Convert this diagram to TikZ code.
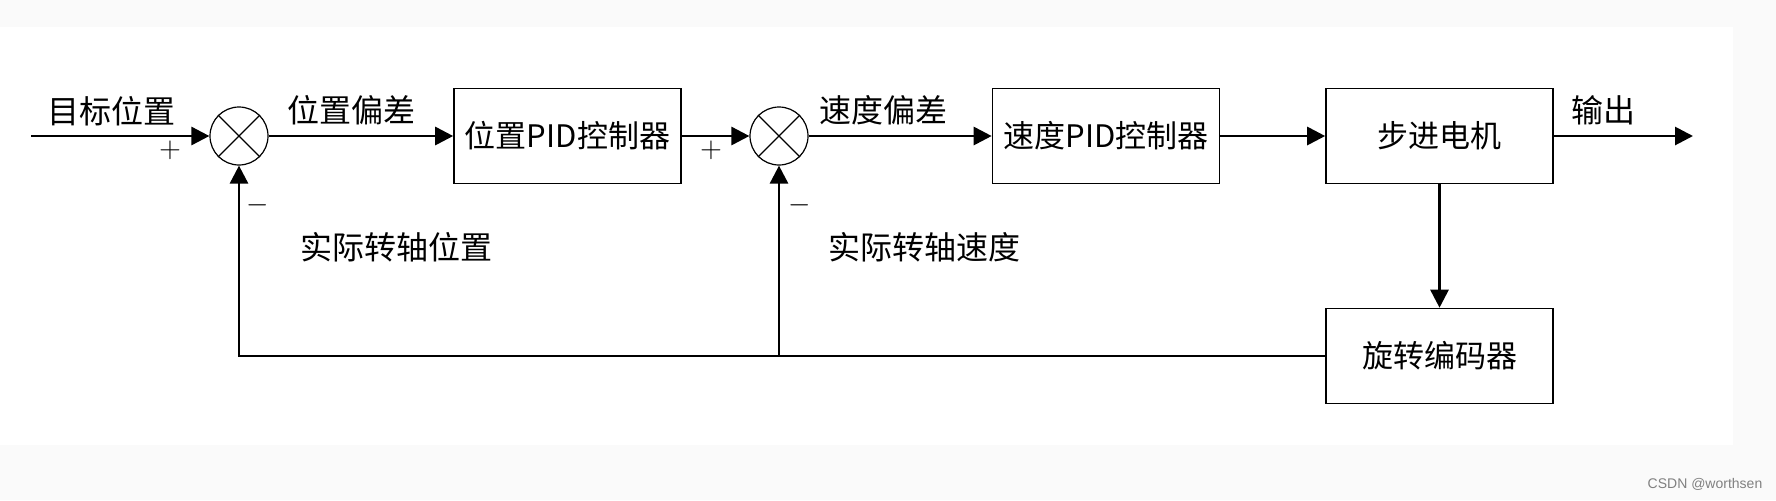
\documentclass[tikz,border=0pt]{standalone}
\usepackage{fontspec}
\setmainfont{Noto Sans CJK SC}
\newfontfamily\wmfont{Liberation Sans}
\usetikzlibrary{arrows.meta}
\definecolor{bgray}{RGB}{250,250,250}
\begin{document}
\begin{tikzpicture}[x=0.5pt,y=-0.5pt,
  blk/.style={draw, line width=0.8pt, minimum width=113.5pt, minimum height=47.5pt, inner sep=0pt, font=\fontsize{15.5}{18}\selectfont},
  sumc/.style={draw, circle, line width=0.6pt, minimum size=29pt, inner sep=0pt},
  conn/.style={line width=1.4pt, -{Triangle[length=9pt,width=9pt]}},
  lbl/.style={font=\fontsize{16}{19}\selectfont, inner sep=0pt},
  sgn/.style={font=\fontsize{14}{16}\selectfont, inner sep=0pt}
]
\useasboundingbox (0,0) rectangle (1776,500);
\fill[bgray] (0,0) rectangle (1776,500);
\fill[white] (0,27) rectangle (1733,445);

% sums
\node[sumc] (s1) at (239,136) {};
\draw[line width=0.6pt] (s1.45) -- (s1.225) (s1.135) -- (s1.315);
\node[sumc] (s2) at (779,136) {};
\draw[line width=0.6pt] (s2.45) -- (s2.225) (s2.135) -- (s2.315);

% blocks
\node[blk] (b1) at (567.5,136) {位置PID控制器};
\node[blk] (b2) at (1106,136) {速度PID控制器};
\node[blk] (b3) at (1439.5,136) {步进电机};
\node[blk] (enc) at (1439.5,356) {旋转编码器};

% connectors
\coordinate (in) at (31,136);
\coordinate (out) at (1693,136);
\draw[conn] (in) -- (s1.west);
\draw[conn] (s1.east) -- (b1.west);
\draw[conn] (b1.east) -- (s2.west);
\draw[conn] (s2.east) -- (b2.west);
\draw[conn] (b2.east) -- (b3.west);
\draw[conn] (b3.east) -- (out);
\draw[conn] (b3.south) -- (enc.north);
\coordinate (fbL) at (s1 |- enc.west);
\coordinate (fbM) at (s2 |- enc.west);
\draw[conn] (enc.west) -- (fbL) -- (s1.south);
\draw[conn] (fbM) -- (s2.south);

% labels
\node[lbl] (t1) at (111,111) {目标位置};
\node[lbl] (t2) at (351,110) {位置偏差};
\node[lbl] (t3) at (396,247) {实际转轴位置};
\node[lbl] (t4) at (883,110) {速度偏差};
\node[lbl] (t5) at (924,247) {实际转轴速度};
\node[lbl] (t6) at (1603,110) {输出};
\node[sgn] (p1) at (170,150) {$+$};
\node[sgn] (p2) at (711,150) {$+$};
\node[sgn] (m1) at (258,205) {$-$};
\node[sgn] (m2) at (800,205) {$-$};
\node[font=\wmfont\fontsize{7}{8}\selectfont, text=gray, inner sep=0pt] (wm) at (1705,484) {CSDN @worthsen};
\end{tikzpicture}
\end{document}
